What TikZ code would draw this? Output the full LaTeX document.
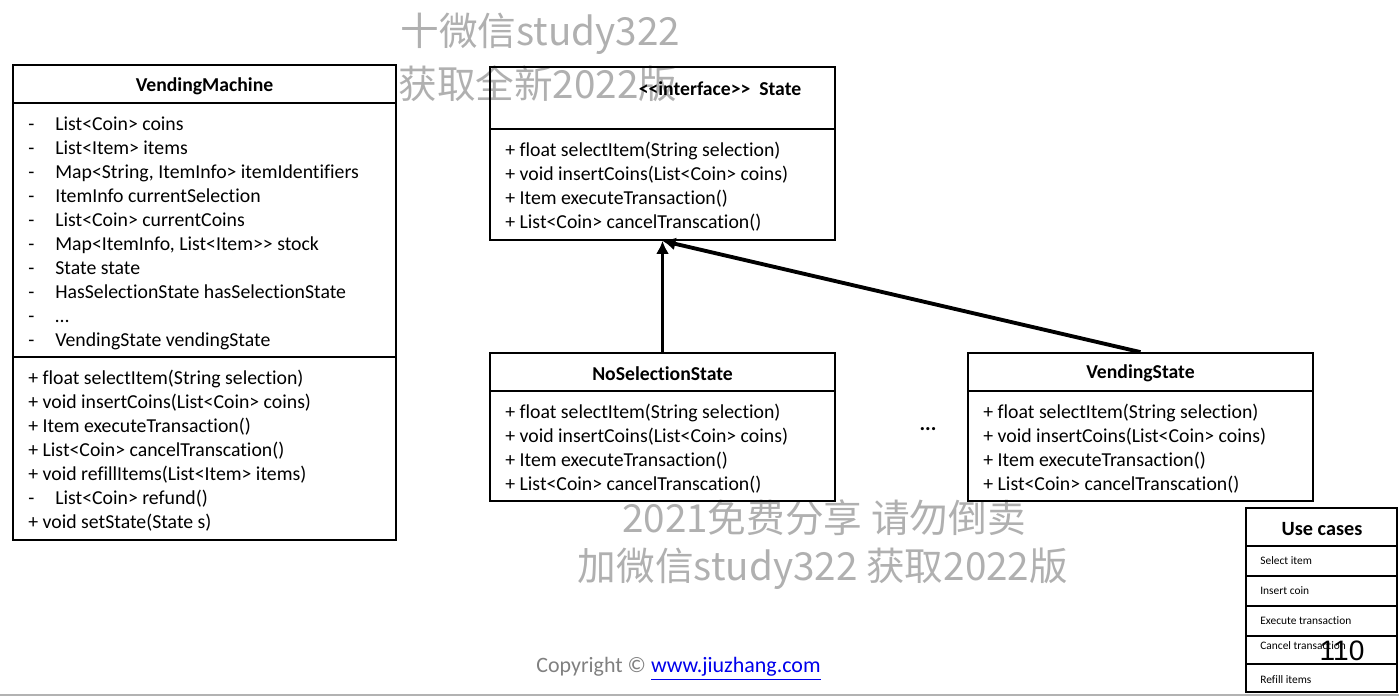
\documentclass[tikz,border=0pt]{standalone}
\usepackage{fontspec}
\setmainfont{Carlito}[Ligatures={NoCommon}]
\newfontfamily\wmfont{Noto Sans CJK SC}
\newfontfamily\numfont{Liberation Sans}
\usetikzlibrary{positioning,arrows.meta,fit}
\definecolor{wmgray}{RGB}{176,176,176}
\definecolor{linkblue}{RGB}{0,0,235}
\definecolor{copygray}{RGB}{128,128,128}
\newcommand{\priv}[1]{\makebox[0.54cm][l]{-}#1}
\tikzset{
  umlbox/.style={draw,line width=1pt,inner sep=0pt},
  umltitle/.style={font=\fontsize{11.2}{13.66}\selectfont\bfseries,inner sep=0pt},
  umllines/.style={font=\fontsize{11.25}{13.66}\selectfont,align=left,anchor=west,inner sep=0pt},
  caserow/.style={font=\fontsize{6.5}{8}\selectfont,anchor=west,inner sep=0pt},
  watermark/.style={font=\wmfont\fontsize{22}{26}\selectfont,text=wmgray,inner sep=0pt},
  inherit/.style={line width=2.2pt,-{Latex[length=2.6mm,width=2.6mm]}}
}

\begin{document}
\begin{tikzpicture}[x=0.02cm,y=-0.02cm]
\useasboundingbox (0,0) rectangle (1399,696);
% watermark
\node[watermark,anchor=west] (wmtop) at (400,34) {十微信study322};
\node[watermark,anchor=west] (wmsub) at (398,84) {获取全新2022版};
\node[watermark] (wmfree) at (824,518) {2021免费分享 请勿倒卖};
\node[watermark] (wmadd) at (823,569) {加微信study322 获取2022版};
% VendingMachine
\node[umlbox,fit={(13,65) (396,540)}] (machine) {};
\draw[line width=1pt] (13,103) -- (396,103);
\draw[line width=1pt] (13,357) -- (396,357);
\node[umltitle] (machinetitle) at (204.5,86.5) {VendingMachine};
\node[umllines] (machineattrs) at (28,233) {
  \priv{List<Coin> coins}\\
  \priv{List<Item> items}\\
  \priv{Map<String, ItemInfo> itemIdentifiers}\\
  \priv{ItemInfo currentSelection}\\
  \priv{List<Coin> currentCoins}\\
  \priv{Map<ItemInfo, List<Item>{}> stock}\\
  \priv{State state}\\
  \priv{HasSelectionState hasSelectionState}\\
  \priv{\dots}\\
  \priv{VendingState vendingState}
};
\node[umllines] (machineops) at (28,451) {
  + float selectItem(String selection)\\
  + void insertCoins(List<Coin> coins)\\
  + Item executeTransaction()\\
  + List<Coin> cancelTranscation()\\
  + void refillItems(List<Item> items)\\
  \priv{List<Coin> refund()}\\
  + void setState(State s)
};
% State interface
\node[umlbox,fit={(490,67) (835,240)}] (state) {};
\draw[line width=1pt] (490,129) -- (835,129);
\node[umltitle] (statetitle) at (720,88.5) {<{}<interface>{}>\ \ State};
\node[umllines] (stateops) at (505,187) {
  + float selectItem(String selection)\\
  + void insertCoins(List<Coin> coins)\\
  + Item executeTransaction()\\
  + List<Coin> cancelTranscation()
};
% NoSelectionState
\node[umlbox,fit={(490,353) (835,501)}] (nosel) {};
\draw[line width=1pt] (490,391) -- (835,391);
\node[umltitle] (noseltitle) at (662.5,373.5) {NoSelectionState};
\node[umllines] (noselops) at (505,449) {
  + float selectItem(String selection)\\
  + void insertCoins(List<Coin> coins)\\
  + Item executeTransaction()\\
  + List<Coin> cancelTranscation()
};
% VendingState
\node[umlbox,fit={(968,353) (1313,501)}] (vend) {};
\draw[line width=1pt] (968,391) -- (1313,391);
\node[umltitle] (vendtitle) at (1140.5,373.5) {VendingState};
\node[umllines] (vendops) at (983,449) {
  + float selectItem(String selection)\\
  + void insertCoins(List<Coin> coins)\\
  + Item executeTransaction()\\
  + List<Coin> cancelTranscation()
};
\node[font=\fontsize{12}{14}\selectfont\bfseries] (dots) at (928,429) {...};
% inheritance
\draw[inherit] (nosel) -- (state);
\draw[inherit] (vend.north) -- (state.south);
% Use cases
\node[umlbox,fit={(1246,508) (1397,692)}] (cases) {};
\draw[line width=1pt] (1246,546) -- (1397,546);
\draw[line width=1pt] (1246,576) -- (1397,576);
\draw[line width=1pt] (1246,606) -- (1397,606);
\draw[line width=1pt] (1246,636) -- (1397,636);
\draw[line width=1pt] (1246,664) -- (1397,664);
\node[font=\fontsize{11.5}{14}\selectfont\bfseries] (casestitle) at (1322,529) {Use cases};
\node[caserow] (caseselect) at (1260,561) {Select item};
\node[caserow] (caseinsert) at (1260,591) {Insert coin};
\node[caserow] (caseexecute) at (1260,621) {Execute transaction};
\node[caserow] (casecancel) at (1260,646) {Cancel transaction};
\node[caserow] (caserefill) at (1260,680) {Refill items};
\node[font=\numfont\fontsize{16}{19}\selectfont,inner sep=0pt] (pagenum) at (1342,651) {110};
% footer
\node[anchor=west,font=\fontsize{12.5}{15}\selectfont,inner sep=0pt] (copyright) at (536,669)
  {\textcolor{copygray}{Copyright ©} \textcolor{linkblue}{\underline{www.jiuzhang.com}}};
\draw[gray!60,line width=1.2pt] (0,695) -- (1399,695);
\end{tikzpicture}
\end{document}
